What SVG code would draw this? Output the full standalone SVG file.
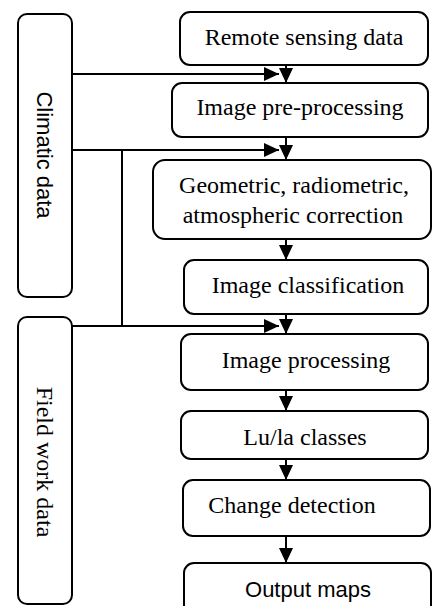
<svg xmlns="http://www.w3.org/2000/svg" width="432" height="606" viewBox="0 0 432 606">
  <style>
    .box { fill: #ffffff; stroke: #000000; stroke-width: 2; }
    .serif { font-family: "Liberation Serif", "Times New Roman", serif; font-size: 24px; fill: #000000; text-anchor: middle; }
    .sans { font-family: "Liberation Sans", Arial, sans-serif; font-size: 22px; fill: #000000; text-anchor: middle; }
    .wire { fill: none; stroke: #000000; stroke-width: 2; }
  </style>
  <defs>
    <marker id="head" viewBox="0 0 15 14" refX="15" refY="7" markerWidth="15" markerHeight="14" markerUnits="userSpaceOnUse" orient="auto">
      <path d="M0,0 L15,7 L0,14 Z" fill="#000000"/>
    </marker>
  </defs>

  <rect width="432" height="606" fill="#ffffff"/>

  <!-- side inputs -->
  <g id="climatic-data">
    <rect class="box" x="18" y="14" width="54" height="283" rx="9"/>
    <text class="sans" transform="translate(37,155) rotate(90)">Climatic data</text>
  </g>
  <g id="field-work-data">
    <rect class="box" x="18" y="317" width="54" height="287" rx="9"/>
    <text class="serif" transform="translate(37,462) rotate(90)">Field work data</text>
  </g>

  <!-- main processing chain -->
  <g id="remote-sensing-data">
    <rect class="box" x="180" y="12" width="248" height="53" rx="10"/>
    <text class="serif" x="304" y="45">Remote sensing data</text>
  </g>
  <g id="image-pre-processing">
    <rect class="box" x="172" y="83" width="256" height="54" rx="10"/>
    <text class="serif" x="300" y="115">Image pre-processing</text>
  </g>
  <g id="corrections">
    <rect class="box" x="153" y="160" width="278" height="79" rx="12"/>
    <text class="serif" x="294" y="193">Geometric, radiometric,</text>
    <text class="serif" x="293" y="223">atmospheric correction</text>
  </g>
  <g id="image-classification">
    <rect class="box" x="184" y="260" width="244" height="54" rx="10"/>
    <text class="serif" x="308" y="293">Image classification</text>
  </g>
  <g id="image-processing">
    <rect class="box" x="181" y="334" width="247" height="56" rx="10"/>
    <text class="serif" x="306" y="368">Image processing</text>
  </g>
  <g id="lu-la-classes">
    <rect class="box" x="181" y="411" width="247" height="48" rx="10"/>
    <text class="serif" x="305" y="445">Lu/la classes</text>
  </g>
  <g id="change-detection">
    <rect class="box" x="183" y="480" width="247" height="56" rx="10"/>
    <text class="serif" x="292" y="513">Change detection</text>
  </g>
  <g id="output-maps">
    <rect class="box" x="184" y="563" width="247" height="60" rx="10"/>
    <text class="sans" x="308" y="597">Output maps</text>
  </g>

  <!-- connectors -->
  <g id="connectors">
    <line class="wire" x1="286" y1="65" x2="286" y2="83" marker-end="url(#head)"/>
    <line class="wire" x1="286" y1="137" x2="286" y2="160" marker-end="url(#head)"/>
    <line class="wire" x1="286" y1="239" x2="286" y2="260" marker-end="url(#head)"/>
    <line class="wire" x1="286" y1="314" x2="286" y2="334" marker-end="url(#head)"/>
    <line class="wire" x1="286" y1="390" x2="286" y2="411" marker-end="url(#head)"/>
    <line class="wire" x1="286" y1="459" x2="286" y2="480" marker-end="url(#head)"/>
    <line class="wire" x1="286" y1="536" x2="286" y2="563" marker-end="url(#head)"/>

    <line class="wire" x1="72" y1="74" x2="279" y2="74" marker-end="url(#head)"/>
    <line class="wire" x1="72" y1="150" x2="279" y2="150" marker-end="url(#head)"/>
    <line class="wire" x1="122" y1="150" x2="122" y2="326"/>
    <line class="wire" x1="72" y1="326" x2="279" y2="326" marker-end="url(#head)"/>
  </g>
</svg>
